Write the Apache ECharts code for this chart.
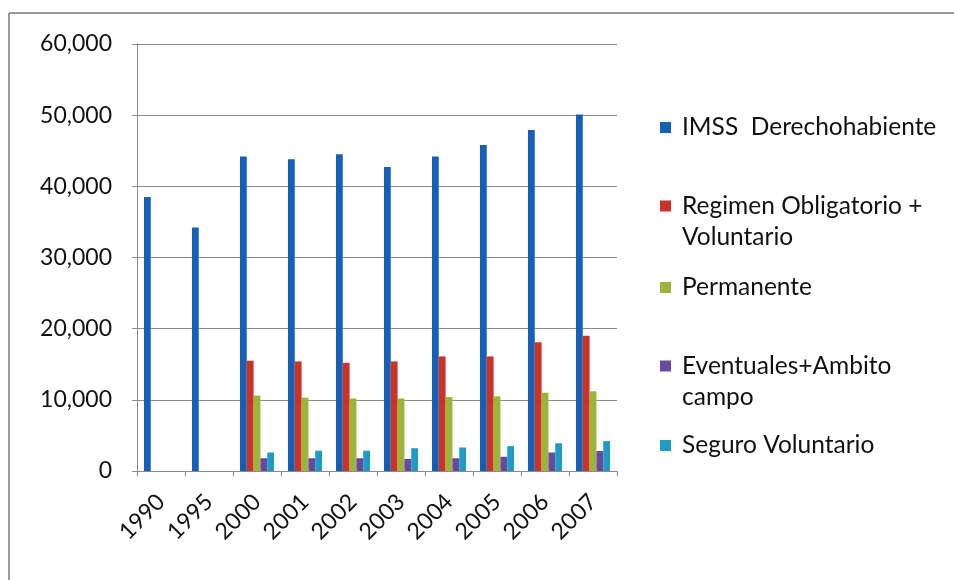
<!DOCTYPE html>
<html>
<head>
<meta charset="utf-8">
<script src="https://cdn.jsdelivr.net/npm/echarts@6/dist/echarts.min.js"></script>
<style>
html,body{margin:0;padding:0;background:#fff;}
#c{width:954px;height:580px;}
</style>
</head>
<body>
<div id="c"></div>
<script>
var categories = ['1990','1995','2000','2001','2002','2003','2004','2005','2006','2007'];
var seriesNames = ['IMSS  Derechohabiente','Regimen Obligatorio + Voluntario','Permanente','Eventuales+Ambito campo','Seguro Voluntario'];
var imss = [38500, 34200, 44200, 43800, 44500, 42700, 44200, 45800, 47900, 50100];
var regimen = [null, null, 15500, 15400, 15200, 15400, 16100, 16100, 18100, 19000];
var permanente = [null, null, 10600, 10300, 10200, 10200, 10400, 10500, 11000, 11200];
var eventuales = [null, null, 1800, 1800, 1800, 1700, 1800, 2000, 2600, 2800];
var seguro = [null, null, 2600, 2850, 2850, 3200, 3300, 3500, 3900, 4200];
var yTicks = [0, 10000, 20000, 30000, 40000, 50000, 60000];

var colors = ['#1560b4', '#cc3326', '#9ab43c', '#6a4aa0', '#1e9cc4'];
var dataSets = [imss, regimen, permanente, eventuales, seguro];
var legendLines = [
  ['IMSS  Derechohabiente'],
  ['Regimen Obligatorio +', 'Voluntario'],
  ['Permanente'],
  ['Eventuales+Ambito', 'campo'],
  ['Seguro Voluntario']
];
var legendCenters = [125, 206, 285, 366, 443];
var FONT = 'Lato';

var legends = seriesNames.map(function (n, i) {
  var lines = legendLines[i];
  var two = lines.length > 1;
  return {
    data: [n],
    left: 660,
    top: legendCenters[i] - (two ? 36 : 10),
    itemWidth: 11,
    itemHeight: 11,
    icon: 'rect',
    selectedMode: false,
    padding: 0,
    formatter: function () {
      var s = lines.map(function (l) { return '{a|' + l + '}'; }).join('\n');
      return two ? '{b| }\n' + s : s;
    },
    textStyle: {
      rich: {
        a: { fontFamily: FONT, fontSize: 24.5, lineHeight: 31, color: '#111', padding: [0, 0, 0, 6] },
        b: { fontSize: 10, lineHeight: 31 }
      }
    }
  };
});

var chart = echarts.init(document.getElementById('c'));
chart.setOption({
  backgroundColor: '#ffffff',
  animation: false,
  color: colors,
  textStyle: { fontFamily: FONT },
  legend: legends,
  grid: { left: 137, right: 337, top: 44, bottom: 109 },
  xAxis: {
    type: 'category',
    data: categories,
    boundaryGap: true,
    axisLine: { lineStyle: { color: '#8a8a8a', width: 1 } },
    axisTick: { show: true, interval: 0, length: 5, lineStyle: { color: '#8a8a8a' } },
    axisLabel: { interval: 0, rotate: 45, fontSize: 23, color: '#111', margin: 27, fontFamily: FONT }
  },
  yAxis: {
    type: 'value',
    min: yTicks[0],
    max: yTicks[yTicks.length - 1],
    interval: yTicks[1] - yTicks[0],
    axisLine: { show: true, lineStyle: { color: '#8a8a8a', width: 1 } },
    axisTick: { show: true, length: 5, lineStyle: { color: '#8a8a8a' } },
    splitLine: { lineStyle: { color: '#8a8a8a', width: 1 } },
    axisLabel: {
      fontSize: 23, color: '#111', margin: 25, fontFamily: FONT,
      formatter: function (v) { return v.toLocaleString('en-US'); }
    }
  },
  series: dataSets.map(function (d, i) {
    return {
      name: seriesNames[i],
      type: 'bar',
      data: d,
      barGap: '0%',
      barCategoryGap: '29%',
      itemStyle: { color: colors[i] }
    };
  }),
  graphic: [
    { type: 'line', shape: { x1: 9, y1: 13, x2: 954, y2: 13 }, style: { stroke: '#9a9a9a', lineWidth: 2 }, silent: true },
    { type: 'line', shape: { x1: 9, y1: 13, x2: 9, y2: 580 }, style: { stroke: '#9a9a9a', lineWidth: 2 }, silent: true }
  ]
});
</script>
</body>
</html>
